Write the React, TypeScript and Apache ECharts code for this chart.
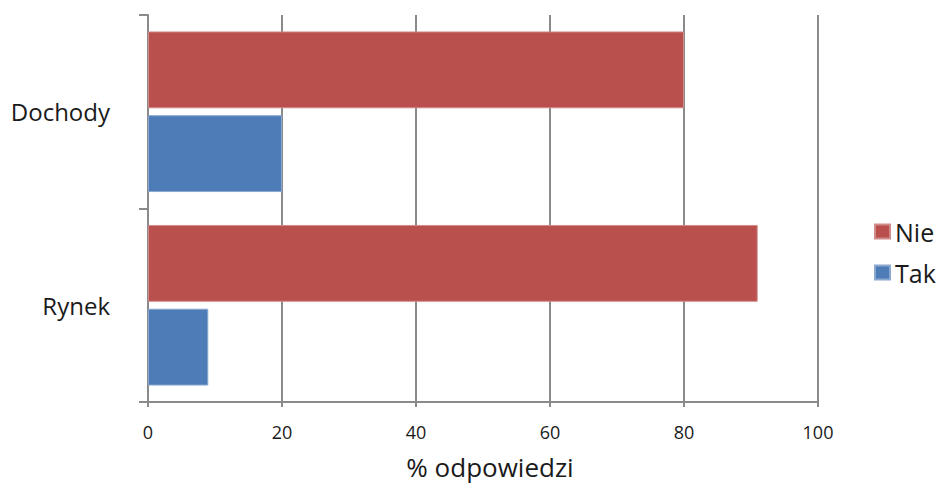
import React, { useEffect, useRef } from "react";
import * as echarts from "echarts";

const categories = ["Rynek", "Dochody"];
const nieValues = [91, 80];
const takValues = [9, 20];
const xTicks = [0, 20, 40, 60, 80, 100];
const axisTitle = "% odpowiedzi";

const FONT = "'Open Sans', 'Noto Sans', sans-serif";

export default function App() {
  const ref = useRef<HTMLDivElement>(null);
  useEffect(() => {
    if (!ref.current) return;
    const chart = echarts.init(ref.current, undefined, { renderer: "svg" });
    chart.setOption({
      animation: false,
      backgroundColor: "#ffffff",
      textStyle: { fontFamily: FONT },
      grid: { left: 148, right: 119, top: 15, bottom: 77, containLabel: false },
      legend: {
        data: ["Nie", "Tak"],
        orient: "vertical",
        left: 869,
        top: 214,
        itemWidth: 15,
        itemHeight: 14,
        itemGap: 16,
        icon: "rect",
        textStyle: { fontSize: 25, color: "#1a1a1a", fontFamily: FONT, padding: [0, 0, 0, 0] },
      },
      xAxis: {
        type: "value",
        min: xTicks[0],
        max: xTicks[xTicks.length - 1],
        interval: 20,
        name: axisTitle,
        nameLocation: "middle",
        nameGap: 52,
        nameTextStyle: { fontSize: 26, color: "#1a1a1a", fontFamily: FONT, padding: [0, 0, 0, 14] },
        axisLine: { show: true, lineStyle: { color: "#8a8a8a", width: 2 } },
        axisTick: { show: true, length: 5, lineStyle: { color: "#8a8a8a", width: 2 } },
        axisLabel: { fontSize: 18, color: "#1a1a1a", margin: 21, fontFamily: FONT },
        splitLine: { show: true, lineStyle: { color: "#8a8a8a", width: 2 } },
      },
      yAxis: {
        type: "category",
        data: categories,
        axisLine: { show: true, lineStyle: { color: "#8a8a8a", width: 2 } },
        axisTick: { show: true, length: 9, lineStyle: { color: "#8a8a8a", width: 2 } },
        axisLabel: { fontSize: 24, color: "#1a1a1a", margin: 38, fontFamily: FONT },
        splitLine: { show: false },
      },
      series: [
        {
          name: "Nie",
          type: "bar",
          data: nieValues,
          barGap: "9%",
          barCategoryGap: "17%",
          itemStyle: { color: "#B9504E", borderColor: "#d08c8a", borderWidth: 1 },
        },
        {
          name: "Tak",
          type: "bar",
          data: takValues,
          barGap: "9%",
          barCategoryGap: "17%",
          itemStyle: { color: "#4E7CB6", borderColor: "#8aa8d0", borderWidth: 1 },
        },
      ],
    });
    return () => chart.dispose();
  }, []);
  return <div ref={ref} style={{ width: 937, height: 485, position: "absolute", left: 0, top: 0 }} />;
}
